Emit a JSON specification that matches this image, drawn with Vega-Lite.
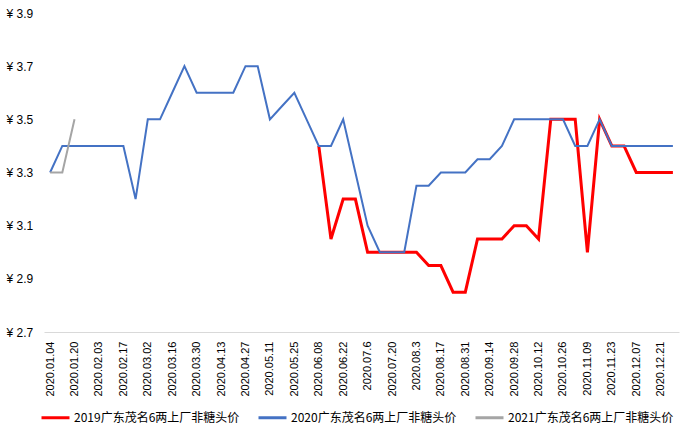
{
  "$schema": "https://vega.github.io/schema/vega-lite/v6.json",
  "width": 635,
  "height": 319,
  "autosize": {"type": "none"},
  "padding": {"left": 44, "top": 13, "right": 18, "bottom": 96},
  "background": "white",
  "config": {"view": {"stroke": null}, "font": "Liberation Sans"},
  "datasets": {
    "s2019": [
      {"date": "2020.06.08", "price": 3.4}, {"date": "2020.06.15", "price": 3.05}, {"date": "2020.06.22", "price": 3.2}, {"date": "2020.06.29", "price": 3.2},
      {"date": "2020.07.6", "price": 3.0}, {"date": "2020.07.13", "price": 3.0}, {"date": "2020.07.20", "price": 3.0}, {"date": "2020.07.27", "price": 3.0},
      {"date": "2020.08.3", "price": 3.0}, {"date": "2020.08.10", "price": 2.95}, {"date": "2020.08.17", "price": 2.95}, {"date": "2020.08.24", "price": 2.85},
      {"date": "2020.08.31", "price": 2.85}, {"date": "2020.09.07", "price": 3.05}, {"date": "2020.09.14", "price": 3.05}, {"date": "2020.09.21", "price": 3.05},
      {"date": "2020.09.28", "price": 3.1}, {"date": "2020.10.05", "price": 3.1}, {"date": "2020.10.12", "price": 3.05}, {"date": "2020.10.19", "price": 3.5},
      {"date": "2020.10.26", "price": 3.5}, {"date": "2020.11.02", "price": 3.5}, {"date": "2020.11.09", "price": 3.0}, {"date": "2020.11.16", "price": 3.5},
      {"date": "2020.11.23", "price": 3.4}, {"date": "2020.11.30", "price": 3.4}, {"date": "2020.12.07", "price": 3.3}, {"date": "2020.12.14", "price": 3.3},
      {"date": "2020.12.21", "price": 3.3}, {"date": "2020.12.28", "price": 3.3}
    ],
    "s2020": [
      {"date": "2020.01.04", "price": 3.3}, {"date": "2020.01.13", "price": 3.4}, {"date": "2020.01.20", "price": 3.4}, {"date": "2020.01.27", "price": 3.4},
      {"date": "2020.02.03", "price": 3.4}, {"date": "2020.02.10", "price": 3.4}, {"date": "2020.02.17", "price": 3.4}, {"date": "2020.02.24", "price": 3.2},
      {"date": "2020.03.02", "price": 3.5}, {"date": "2020.03.09", "price": 3.5}, {"date": "2020.03.16", "price": 3.6}, {"date": "2020.03.23", "price": 3.7},
      {"date": "2020.03.30", "price": 3.6}, {"date": "2020.04.06", "price": 3.6}, {"date": "2020.04.13", "price": 3.6}, {"date": "2020.04.20", "price": 3.6},
      {"date": "2020.04.27", "price": 3.7}, {"date": "2020.05.04", "price": 3.7}, {"date": "2020.05.11", "price": 3.5}, {"date": "2020.05.18", "price": 3.55},
      {"date": "2020.05.25", "price": 3.6}, {"date": "2020.06.01", "price": 3.5}, {"date": "2020.06.08", "price": 3.4}, {"date": "2020.06.15", "price": 3.4},
      {"date": "2020.06.22", "price": 3.5}, {"date": "2020.06.29", "price": 3.3}, {"date": "2020.07.6", "price": 3.1}, {"date": "2020.07.13", "price": 3.0},
      {"date": "2020.07.20", "price": 3.0}, {"date": "2020.07.27", "price": 3.0}, {"date": "2020.08.3", "price": 3.25}, {"date": "2020.08.10", "price": 3.25},
      {"date": "2020.08.17", "price": 3.3}, {"date": "2020.08.24", "price": 3.3}, {"date": "2020.08.31", "price": 3.3}, {"date": "2020.09.07", "price": 3.35},
      {"date": "2020.09.14", "price": 3.35}, {"date": "2020.09.21", "price": 3.4}, {"date": "2020.09.28", "price": 3.5}, {"date": "2020.10.05", "price": 3.5},
      {"date": "2020.10.12", "price": 3.5}, {"date": "2020.10.19", "price": 3.5}, {"date": "2020.10.26", "price": 3.5}, {"date": "2020.11.02", "price": 3.4},
      {"date": "2020.11.09", "price": 3.4}, {"date": "2020.11.16", "price": 3.5}, {"date": "2020.11.23", "price": 3.4}, {"date": "2020.11.30", "price": 3.4},
      {"date": "2020.12.07", "price": 3.4}, {"date": "2020.12.14", "price": 3.4}, {"date": "2020.12.21", "price": 3.4}, {"date": "2020.12.28", "price": 3.4}
    ],
    "s2021": [
      {"date": "2020.01.04", "price": 3.3}, {"date": "2020.01.13", "price": 3.3}, {"date": "2020.01.20", "price": 3.5}
    ]
  },
  "layer": [
    {
      "data": {"name": "s2019"},
      "transform": [{"calculate": "'2019广东茂名6两上厂非糖头价'", "as": "series"}],
      "mark": {"type": "line", "strokeWidth": 3, "strokeJoin": "miter"},
      "encoding": {}
    },
    {
      "data": {"name": "s2020"},
      "transform": [{"calculate": "'2020广东茂名6两上厂非糖头价'", "as": "series"}],
      "mark": {"type": "line", "strokeWidth": 2, "strokeJoin": "miter"},
      "encoding": {}
    },
    {
      "data": {"name": "s2021"},
      "transform": [{"calculate": "'2021广东茂名6两上厂非糖头价'", "as": "series"}],
      "mark": {"type": "line", "strokeWidth": 2, "strokeJoin": "miter"},
      "encoding": {}
    }
  ],
  "encoding": {
    "x": {
      "field": "date",
      "type": "ordinal",
      "scale": {
        "type": "point",
        "padding": 0.5,
        "domain": ["2020.01.04","2020.01.13","2020.01.20","2020.01.27","2020.02.03","2020.02.10","2020.02.17","2020.02.24","2020.03.02","2020.03.09","2020.03.16","2020.03.23","2020.03.30","2020.04.06","2020.04.13","2020.04.20","2020.04.27","2020.05.04","2020.05.11","2020.05.18","2020.05.25","2020.06.01","2020.06.08","2020.06.15","2020.06.22","2020.06.29","2020.07.6","2020.07.13","2020.07.20","2020.07.27","2020.08.3","2020.08.10","2020.08.17","2020.08.24","2020.08.31","2020.09.07","2020.09.14","2020.09.21","2020.09.28","2020.10.05","2020.10.12","2020.10.19","2020.10.26","2020.11.02","2020.11.09","2020.11.16","2020.11.23","2020.11.30","2020.12.07","2020.12.14","2020.12.21","2020.12.28"]
      },
      "axis": {
        "title": null,
        "values": ["2020.01.04","2020.01.20","2020.02.03","2020.02.17","2020.03.02","2020.03.16","2020.03.30","2020.04.13","2020.04.27","2020.05.11","2020.05.25","2020.06.08","2020.06.22","2020.07.6","2020.07.20","2020.08.3","2020.08.17","2020.08.31","2020.09.14","2020.09.28","2020.10.12","2020.10.26","2020.11.09","2020.11.23","2020.12.07","2020.12.21"],
        "labelAngle": -90,
        "labelAlign": "right",
        "labelBaseline": "middle",
        "labelPadding": 9,
        "labelFontSize": 11,
        "labelColor": "#000000",
        "labelFont": "Liberation Sans",
        "ticks": false,
        "tickSize": 0,
        "grid": false,
        "domainColor": "#d9d9d9",
        "domainWidth": 1,
        "labelOverlap": false
      }
    },
    "y": {
      "field": "price",
      "type": "quantitative",
      "scale": {"domain": [2.7, 3.9], "zero": false, "nice": false},
      "axis": {
        "title": null,
        "values": [2.7, 2.9, 3.1, 3.3, 3.5, 3.7, 3.9],
        "labelExpr": "'¥ ' + format(datum.value, '.1f')",
        "labelAlign": "left",
        "labelPadding": 38,
        "labelFontSize": 12,
        "labelColor": "#000000",
        "labelFont": "Liberation Sans",
        "ticks": false,
        "tickSize": 0,
        "domain": false,
        "grid": false
      }
    },
    "color": {
      "field": "series",
      "type": "nominal",
      "scale": {
        "domain": ["2019广东茂名6两上厂非糖头价", "2020广东茂名6两上厂非糖头价", "2021广东茂名6两上厂非糖头价"],
        "range": ["#FF0000", "#4472C4", "#A5A5A5"]
      },
      "legend": {
        "title": null,
        "orient": "none",
        "legendX": -4,
        "legendY": 389,
        "direction": "horizontal",
        "symbolType": "stroke",
        "symbolSize": 784,
        "symbolStrokeWidth": 3,
        "labelFont": "Noto Sans CJK SC",
        "labelFontSize": 12,
        "labelColor": "#000000",
        "labelLimit": 300,
        "labelOffset": 3,
        "columnPadding": 12
      }
    }
  }
}
